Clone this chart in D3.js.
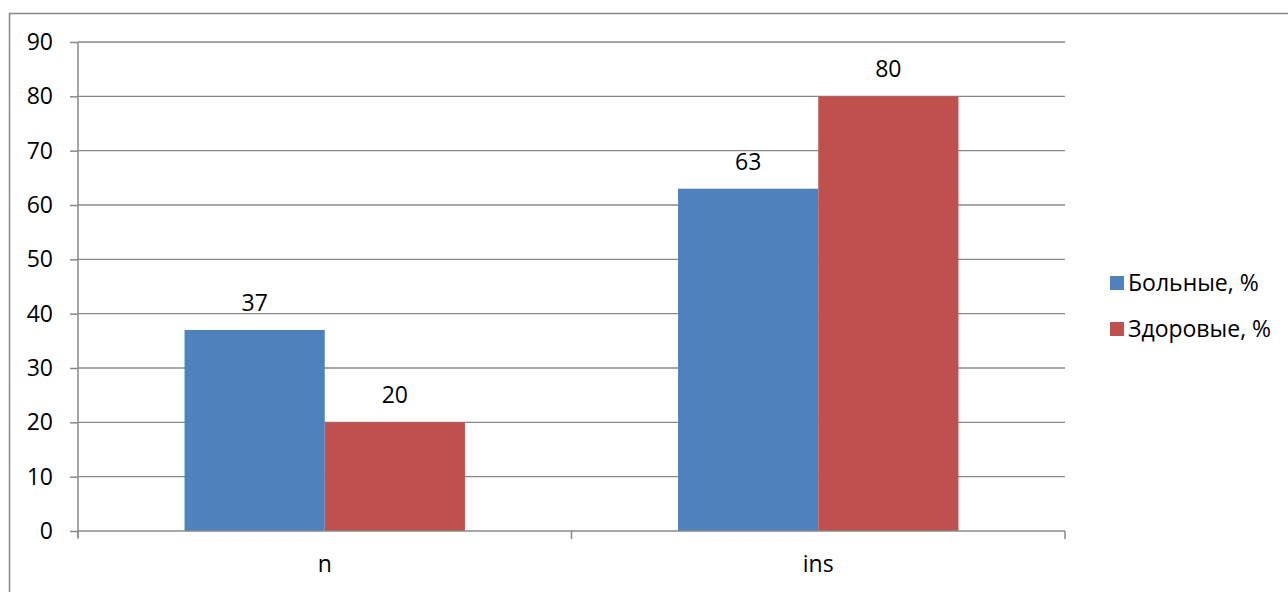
<!DOCTYPE html>
<html>
<head>
<meta charset="utf-8">
<script src="https://cdn.jsdelivr.net/npm/d3@7.9.0/dist/d3.min.js"></script>
<style>
  body { margin: 0; background: #fff; }
  text { font-family: "Open Sans", "Noto Sans", sans-serif; fill: #000; }
</style>
</head>
<body>
<svg id="chart" width="1288" height="592"></svg>
<script>
// data
const categories = ['n', 'ins'];
const seriesNames = ['Больные, %', 'Здоровые, %'];
const sick = [37, 63];
const healthy = [20, 80];
const yTicks = [0, 10, 20, 30, 40, 50, 60, 70, 80, 90];

const colors = ['#4f81bd', '#c0504d'];
const fontSize = 23;
const svg = d3.select('#chart');

// outer frame (goes past the window edge)
svg.append('rect')
  .attr('x', 9.5).attr('y', 13.5)
  .attr('width', 1300).attr('height', 600)
  .attr('fill', 'none').attr('stroke', '#888').attr('stroke-width', 1.5);

const plotLeft = 78, plotRight = 1065, plotTop = 42, plotBottom = 531;

let x = d3.scaleBand().domain(categories).range([plotLeft, plotRight]);
let xInner = d3.scaleBand().domain(seriesNames).range([0, x.bandwidth()]).paddingInner(0).paddingOuter(0.76);
let y = d3.scaleLinear().domain([0, 90]).range([plotBottom, plotTop]);

// gridlines
svg.append('g').selectAll('line').data(yTicks.filter(d => d > 0)).join('line')
  .attr('x1', plotLeft).attr('x2', plotRight)
  .attr('y1', d => y(d)).attr('y2', d => y(d))
  .attr('stroke', '#888').attr('stroke-width', 1.3);

// bars
let rows = categories.map((c, i) => ({ cat: c, vals: [sick[i], healthy[i]] }));
let groups = svg.append('g').selectAll('g').data(rows).join('g')
  .attr('transform', d => `translate(${x(d.cat)},0)`);

groups.selectAll('rect').data(d => d.vals.map((v, j) => ({ name: seriesNames[j], v, j })))
  .join('rect')
  .attr('x', d => xInner(d.name))
  .attr('width', xInner.bandwidth())
  .attr('y', d => y(d.v))
  .attr('height', d => y(0) - y(d.v))
  .attr('fill', d => colors[d.j]);

groups.selectAll('text').data(d => d.vals.map((v, j) => ({ name: seriesNames[j], v, j })))
  .join('text')
  .attr('x', d => xInner(d.name) + xInner.bandwidth() / 2)
  .attr('y', d => y(d.v) - 19)
  .attr('text-anchor', 'middle')
  .attr('font-size', fontSize)
  .text(d => d.v);

// y axis
let yAxis = svg.append('g').attr('transform', `translate(${plotLeft},0)`)
  .call(d3.axisLeft(y).tickValues(yTicks).tickSize(8).tickPadding(17));
yAxis.select('.domain').attr('stroke', '#888').attr('stroke-width', 1.5).attr('d', `M0,${plotTop}V${plotBottom + 6}`);
yAxis.selectAll('.tick line').attr('stroke', '#888').attr('stroke-width', 1.5);
yAxis.selectAll('.tick text').attr('font-size', fontSize).attr('font-family', '"Open Sans", sans-serif').attr('fill', '#000');

// x axis
let xAxis = svg.append('g').attr('transform', `translate(0,${plotBottom})`)
  .call(d3.axisBottom(x).tickSize(0).tickPadding(25));
xAxis.select('.domain').attr('stroke', '#888').attr('stroke-width', 1.5).attr('d', `M${plotLeft},0H${plotRight}`);
xAxis.selectAll('.tick text').attr('font-size', fontSize).attr('font-family', '"Open Sans", sans-serif').attr('fill', '#000');
// category boundary ticks
let bounds = [plotLeft].concat(categories.map(c => x(c) + x.bandwidth()));
xAxis.append('g').selectAll('line').data(bounds).join('line')
  .attr('x1', d => d).attr('x2', d => d)
  .attr('y1', 0).attr('y2', 8)
  .attr('stroke', '#888').attr('stroke-width', 1.5);

// legend
let legend = svg.append('g').attr('transform', 'translate(1110,283)');
let items = legend.selectAll('g').data(seriesNames).join('g')
  .attr('transform', (d, i) => `translate(0,${i * 46})`);
items.append('rect').attr('x', 0).attr('y', -7).attr('width', 14).attr('height', 14)
  .attr('fill', (d, i) => colors[i]);
items.append('text').attr('x', 18).attr('y', 8).attr('font-size', fontSize).text(d => d);
</script>
</body>
</html>
